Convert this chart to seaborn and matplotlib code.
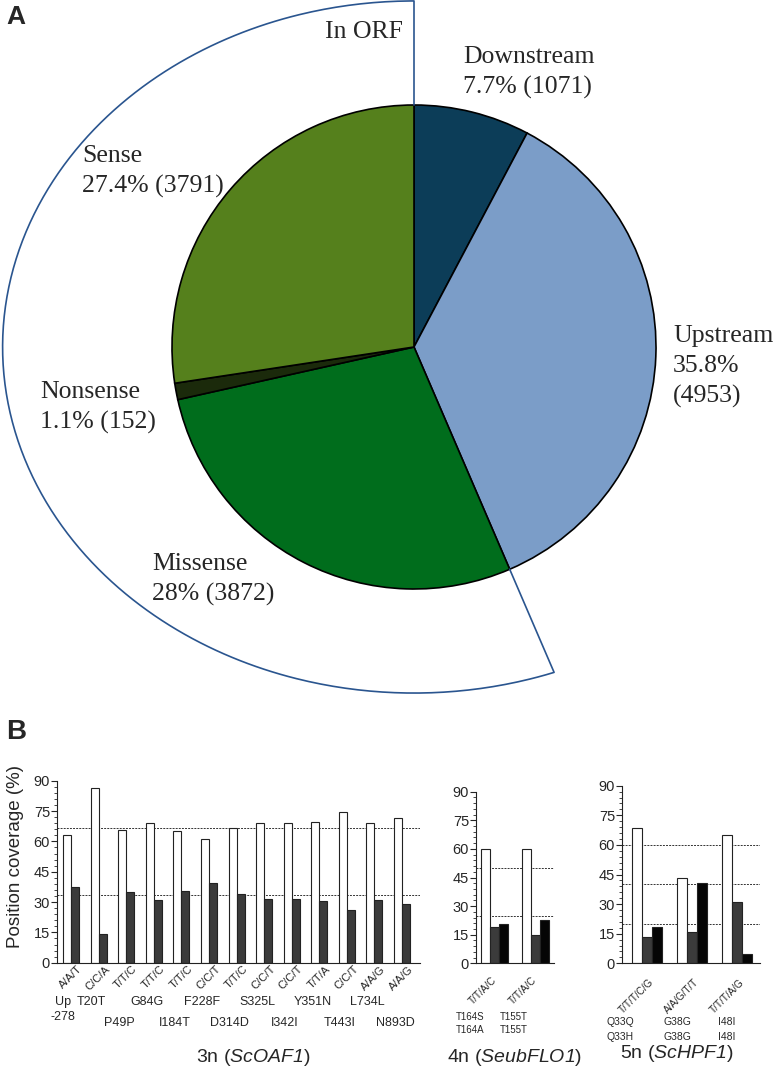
import numpy as np
import pandas as pd
import matplotlib
matplotlib.use('Agg')
import matplotlib.pyplot as plt
import matplotlib.transforms as mtransforms
from matplotlib.ticker import MultipleLocator
import seaborn as sns

# ---- panel A: where the SNPs fall
pie_names = ['Downstream', 'Upstream', 'Missense', 'Nonsense', 'Sense']
pie_pct = [7.7, 35.8, 28, 1.1, 27.4]
pie_counts = [1071, 4953, 3872, 152, 3791]
pie_colors = ['#0c3d58', '#7b9dc8', '#006d1c', '#1b2a0b', '#55801c']
orf_names = ['Missense', 'Nonsense', 'Sense']

# ---- panel B: position coverage per polymorphic site
sites_3n = ['A/A/T', 'C/C/A', 'T/T/C', 'T/T/C', 'T/T/C', 'C/C/T', 'T/T/C',
            'C/C/T', 'C/C/T', 'T/T/A', 'C/C/T', 'A/A/G', 'A/A/G']
cov_3n_a = [63.1, 86.2, 65.4, 68.9, 64.9, 61.0, 66.6, 69.1, 69.1, 69.7, 74.7, 69.1, 71.4]
cov_3n_b = [37.3, 14.3, 34.9, 30.8, 35.4, 39.4, 34.0, 31.5, 31.5, 30.7, 25.9, 30.8, 29.2]
aa_3n = ['Up\n-278', 'T20T', 'P49P', 'G84G', 'I184T', 'F228F', 'D314D',
         'S325L', 'I342I', 'Y351N', 'T443I', 'L734L', 'N893D']
expected_3n = [1 / 3, 2 / 3]

sites_4n = ['T/T/A/C', 'T/T/A/C']
cov_4n_a = [60, 60]
cov_4n_b = [19.0, 14.9]
cov_4n_c = [20.8, 22.6]
aa_4n_top = ['T164S', 'T155T']
aa_4n_bot = ['T164A', 'T155T']
expected_4n = [1 / 4, 2 / 4]

sites_5n = ['T/T/T/C/G', 'A/A/G/T/T', 'T/T/T/A/G']
cov_5n_a = [68.4, 43.4, 64.9]
cov_5n_b = [13.2, 15.9, 30.9]
cov_5n_c = [18.4, 40.5, 4.6]
aa_5n_top = ['Q33Q', 'G38G', 'I48I']
aa_5n_bot = ['Q33H', 'G38G', 'I48I']
expected_5n = [1 / 5, 2 / 5, 3 / 5]

sns.set_style('ticks')
plt.rcParams['font.family'] = ['Liberation Sans', 'DejaVu Sans']
# gene names are fully italic (digits too)
plt.rcParams['mathtext.fontset'] = 'custom'
plt.rcParams['mathtext.rm'] = 'Liberation Sans:italic'
plt.rcParams['mathtext.it'] = 'Liberation Sans:italic'

W, H = 775, 1067
fig = plt.figure(figsize=(W / 100, H / 100), dpi=100)


def fy(py):
    return 1 - py / H


# pie: centre at pixel (414, 347), radius 242 px
cx, cy, R = 414, 347, 242
axA = fig.add_axes([0, fy(700), 1, 700 / H])
axA.pie(pie_counts, colors=pie_colors, startangle=90, counterclock=False,
        radius=1, center=(0, 0),
        wedgeprops=dict(edgecolor='black', linewidth=1.2))
axA.set_xlim(-cx / R, (W - cx) / R)
axA.set_ylim((cy - 700) / R, cy / R)
axA.set_aspect('auto')
axA.axis('off')

# outline round the ORF classes (drawn on an ellipse)
total = sum(pie_counts)
orf_start = sum(c for n, c in zip(pie_names, pie_counts) if n not in orf_names) / total
th = np.radians(np.linspace(90 - 360 * orf_start, -270, 300))
ea, eb = 1.70, 1.43
r_ell = ea * eb / np.sqrt((eb * np.cos(th)) ** 2 + (ea * np.sin(th)) ** 2)
xs = np.concatenate([[np.cos(th[0])], r_ell * np.cos(th), [np.cos(th[-1])]])
ys = np.concatenate([[np.sin(th[0])], r_ell * np.sin(th), [np.sin(th[-1])]])
axA.plot(xs, ys, color='#2a558f', lw=1.2, clip_on=False)

serif = ['Liberation Serif', 'DejaVu Serif']
label_txt = {n: f'{n}\n{p:g}% ({c})' for n, p, c in zip(pie_names, pie_pct, pie_counts)}
label_txt['Upstream'] = label_txt['Upstream'].replace(' (', '\n(')
label_px = {'Downstream': (463, 46), 'Upstream': (673, 325), 'Sense': (82, 145),
            'Nonsense': (40, 381), 'Missense': (152, 553)}
for n in pie_names:
    px, py = label_px[n]
    axA.text((px - cx) / R, (cy - py) / R, label_txt[n], family=serif, fontsize=18.5,
             ha='left', va='top', linespacing=1.45)
axA.text((403 - cx) / R, (cy - 21) / R, 'In ORF', family=serif, fontsize=18.5,
         ha='right', va='top')

fig.text(6 / W, fy(5), 'A', fontsize=19, fontweight='bold', va='top')
fig.text(6 / W, fy(719), 'B', fontsize=20, fontweight='bold', va='top')


def coverage_panel(ax, sites, series, expected, width, xlim):
    n = len(series)
    keys = ['a', 'b', 'c'][:n]
    df = pd.DataFrame({
        'site': np.tile(np.arange(len(sites)), n),
        'allele': np.repeat(keys, len(sites)),
        'coverage': np.concatenate(series),
    })
    sns.barplot(data=df, x='site', y='coverage', hue='allele', hue_order=keys,
                palette={'a': 'white', 'b': '#3b3b3b', 'c': '#050505'},
                width=width, saturation=1, edgecolor='#222222', linewidth=0.8,
                legend=False, ax=ax)
    for f in expected:
        ax.axhline(100 * f, color='#333333', lw=0.7, ls=(0, (2, 1.2)), zorder=0.5)
    ax.set_xlim(*xlim)
    ax.set_ylim(0, 90)
    ax.yaxis.set_major_locator(MultipleLocator(15))
    ax.yaxis.set_minor_locator(MultipleLocator(3))
    ax.tick_params(axis='y', which='major', length=4, width=0.8, pad=1, labelsize=10.5)
    ax.tick_params(axis='y', which='minor', length=2, width=0.6)
    ax.tick_params(axis='x', length=0, labelbottom=False)
    ax.set_xlabel('')
    ax.set_ylabel('')
    sns.despine(ax=ax)
    for s in ['left', 'bottom']:
        ax.spines[s].set_linewidth(0.8)
        ax.spines[s].set_color('#222222')


def site_labels(ax, sites, dx, py, size):
    tr = mtransforms.blended_transform_factory(ax.transData, fig.transFigure)
    for i, s in enumerate(sites):
        ax.text(i + dx, fy(py), s, transform=tr, rotation=45, rotation_mode='anchor',
                ha='right', va='top', fontsize=size)


def aa_rows(ax, rows, offsets, pys, size):
    tr = mtransforms.blended_transform_factory(ax.transData, fig.transFigure)
    for row, py in zip(rows, pys):
        for i, (s, off) in enumerate(zip(row, offsets)):
            ax.text(i + off, fy(py), s, transform=tr, ha='center', va='center',
                    fontsize=size)


# 3n
ax1 = fig.add_axes([57 / W, fy(962.7), 363 / W, 182 / H])
coverage_panel(ax1, sites_3n, [cov_3n_a, cov_3n_b], expected_3n, 0.58, (-0.51, 12.65))
site_labels(ax1, sites_3n, 0.22, 964, 8)
tr1 = mtransforms.blended_transform_factory(ax1.transData, fig.transFigure)
for i, s in enumerate(aa_3n):
    if '\n' in s:
        for j, part in enumerate(s.split('\n')):
            ax1.text(i - 0.3, fy(1002 + 15 * j), part, transform=tr1, ha='center',
                     va='center', fontsize=9)
    else:
        py = 1002 if i % 2 == 1 else 1023
        ax1.text(i - 0.25, fy(py), s, transform=tr1, ha='center', va='center',
                 fontsize=9)

# 4n
ax2 = fig.add_axes([476 / W, fy(963.3), 78 / W, 171.6 / H])
coverage_panel(ax2, sites_4n, [cov_4n_a, cov_4n_b, cov_4n_c], expected_4n, 0.675,
               (-0.475, 1.475))
site_labels(ax2, sites_4n, -0.1, 975, 7.2)
aa_rows(ax2, [aa_4n_top, aa_4n_bot], [-0.62, -0.52], [1017, 1030], 7)

# 5n
ax3 = fig.add_axes([622 / W, fy(963.3), 138 / W, 177.6 / H])
coverage_panel(ax3, sites_5n, [cov_5n_a, cov_5n_b, cov_5n_c], expected_5n, 0.66,
               (-0.546, 2.51))
site_labels(ax3, sites_5n, 0.05, 977, 7.2)
aa_rows(ax3, [aa_5n_top, aa_5n_bot], [-0.59, -0.31, -0.22], [1022, 1037], 7.5)

fig.text(16 / W, fy(857), 'Position coverage (%)', rotation=90, ha='center',
         va='center', fontsize=13.5)
fig.text(253 / W, fy(1057), r'3n ($\mathit{ScOAF1}$)', ha='center', va='center', fontsize=14)
fig.text(515 / W, fy(1057), r'4n ($\mathit{SeubFLO1}$)', ha='center', va='center', fontsize=14)
fig.text(677 / W, fy(1053), r'5n ($\mathit{ScHPF1}$)', ha='center', va='center', fontsize=14)

fig.savefig('out.png', dpi=100)
